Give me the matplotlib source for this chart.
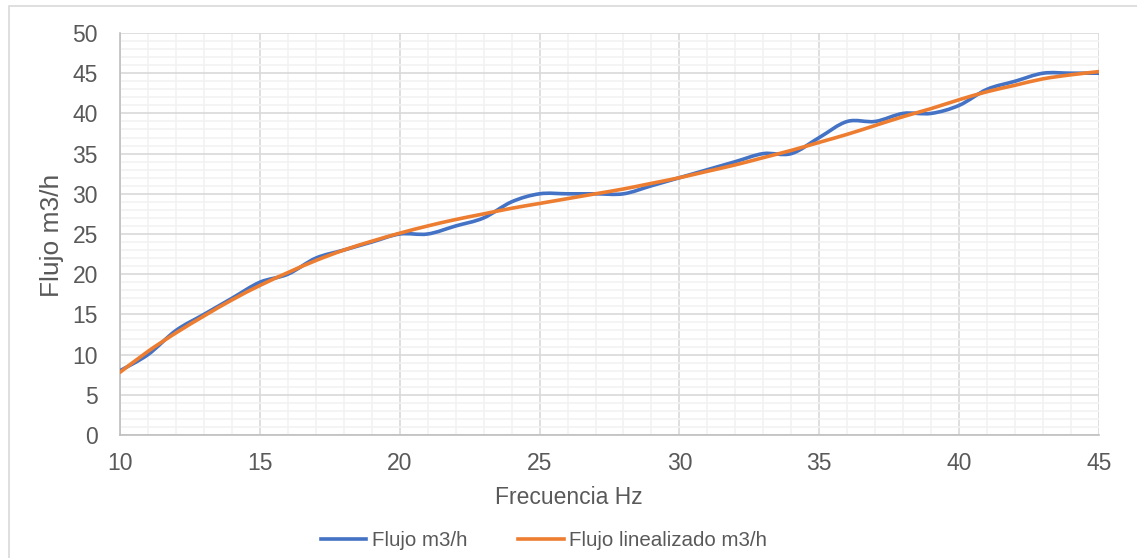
import matplotlib
matplotlib.use("Agg")
import matplotlib.pyplot as plt
import numpy as np
from matplotlib.path import Path
from matplotlib.patches import PathPatch, Rectangle
from matplotlib.lines import Line2D

plt.rcParams['font.family'] = ['Liberation Sans', 'DejaVu Sans']

frecuencia = list(range(10, 46))
flujo = [8, 10, 13, 15, 17, 19, 20, 22, 23, 24, 25, 25, 26, 27, 29, 30, 30, 30,
         30, 31, 32, 33, 34, 35, 35, 37, 39, 39, 40, 40, 41, 43, 44, 45, 45, 45]
flujo_lin = [7.8, 10.4, 12.7, 14.8, 16.8, 18.6, 20.2, 21.7, 23.0, 24.1, 25.1, 26.0,
             26.8, 27.5, 28.2, 28.8, 29.4, 30.0, 30.6, 31.3, 32.0, 32.8, 33.6, 34.5,
             35.4, 36.4, 37.4, 38.5, 39.6, 40.6, 41.7, 42.7, 43.5, 44.3, 44.8, 45.2]
labels = ["Flujo m3/h", "Flujo linealizado m3/h"]
colors = ["#4472C4", "#ED7D31"]

W, H = 1137, 558
fig = plt.figure(figsize=(W / 100, H / 100), dpi=100)
TXT = "#595959"

# chart border
fig.patches.append(Rectangle((9 / W, -0.1), 1.2, 1 - 6 / H + 0.1, transform=fig.transFigure,
                             fill=False, edgecolor="#D9D9D9", lw=1.2, zorder=0))

ax = fig.add_axes([120 / W, (H - 435) / H, 979 / W, 402 / H])
ax.set_xlim(10, 45)
ax.set_ylim(0, 50)
ax.set_xticks(range(10, 46, 5))
ax.set_yticks(range(0, 51, 5))
ax.set_xticks(range(10, 46, 1), minor=True)
ax.set_yticks(range(0, 51, 1), minor=True)
ax.grid(which="minor", color="#F2F2F2", lw=1.2, zorder=0)
ax.grid(which="major", color="#D9D9D9", lw=1.2, zorder=0)
ax.set_axisbelow(True)
for s in ["top", "right"]:
    ax.spines[s].set_visible(False)
for s in ["left", "bottom"]:
    ax.spines[s].set_color("#BFBFBF")
    ax.spines[s].set_linewidth(1.2)
ax.tick_params(which="both", length=0)
ax.tick_params(axis="x", labelsize=16.5, colors=TXT, pad=12.5)
ax.tick_params(axis="y", labelsize=16.5, colors=TXT, pad=16)


def smooth_path(xs, ys):
    p = np.column_stack([xs, ys]).astype(float)
    n = len(p)
    verts = [p[0]]
    codes = [Path.MOVETO]
    for i in range(n - 1):
        p0 = p[i - 1] if i > 0 else p[i]
        p1 = p[i]
        p2 = p[i + 1]
        p3 = p[i + 2] if i + 2 < n else p[i + 1]
        c1 = p1 + (p2 - p0) / 6.0
        c2 = p2 - (p3 - p1) / 6.0
        verts += [c1, c2, p2]
        codes += [Path.CURVE4] * 3
    return Path(verts, codes)


for ys, c in zip([flujo, flujo_lin], colors):
    ax.add_patch(PathPatch(smooth_path(frecuencia, ys), fill=False, edgecolor=c,
                           lw=2.6, capstyle="round", joinstyle="round", zorder=3))

fig.text(569 / W, 1 - 497 / H, "Frecuencia Hz", ha="center", va="center",
         fontsize=16.5, color=TXT)
fig.text(52 / W, 1 - 235 / H, "Flujo m3/h", ha="center", va="center",
         rotation=90, fontsize=19, color=TXT)

handles = [Line2D([], [], color=c, lw=2.6) for c in colors]
fig.legend(handles, labels, loc="center", bbox_to_anchor=(544 / W, 1 - 541 / H),
           ncol=2, frameon=False, fontsize=14.8, handlelength=2.2,
           handletextpad=0.25, columnspacing=2.5, labelcolor=TXT)

fig.savefig("out.png", dpi=100)
